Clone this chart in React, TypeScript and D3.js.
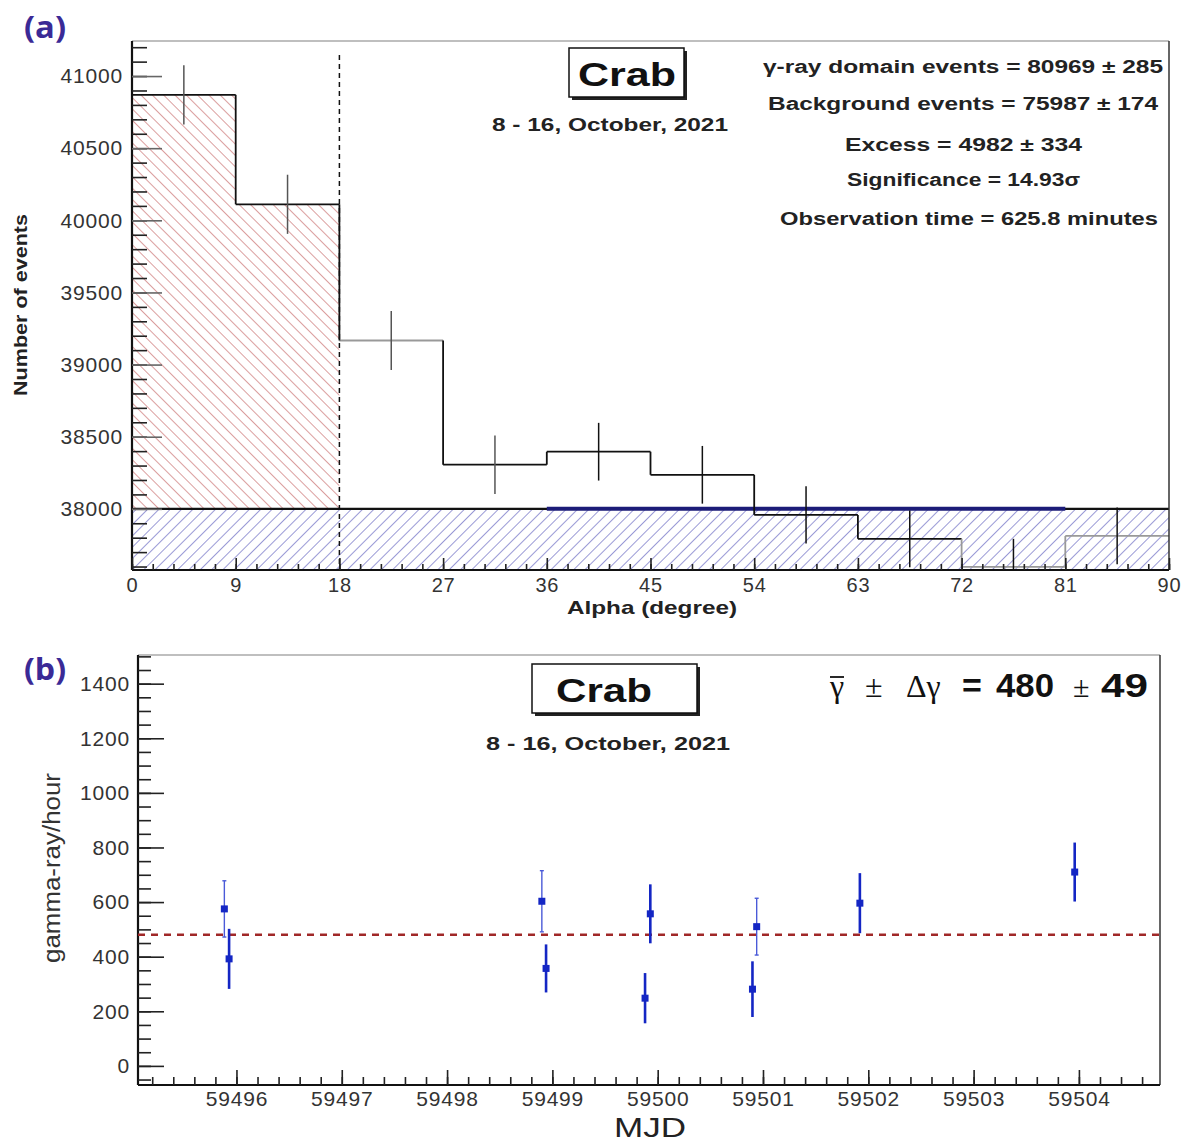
import React, { useRef, useEffect } from 'react';
import * as d3 from 'd3';

// ---- panel (a): alpha distribution ----
const binLow = [0, 9, 18, 27, 36, 45, 54, 63, 72, 81];
const binCounts = [40870, 40111, 39167, 38306, 38396, 38236, 37958, 37792, 37597, 37812];
const binErrors = [205, 205, 205, 203, 200, 200, 198, 197, 195, 197];
const binWidth = 9;
const onCut = 18;
const bgLevel = 38000;
const bgFitRange = [36, 81];
const statLines = [
  'γ-ray domain events = 80969 ± 285',
  'Background events = 75987 ± 174',
  'Excess = 4982 ± 334',
  'Significance  = 14.93σ',
  'Observation time = 625.8 minutes',
];

// ---- panel (b): light curve ----
const mjd = [59495.885, 59495.93, 59498.9, 59498.94, 59499.93, 59499.88, 59500.94, 59500.9, 59501.92, 59503.96];
const rate = [575, 392, 603, 357, 557, 248, 510, 281, 596, 710];
const rateErr = [103, 110, 112, 88, 108, 92, 104, 102, 110, 108];
const meanRate = 480;
const meanErr = 49;

const FONT = '"Liberation Sans", Arial, Helvetica, sans-serif';
const SERIF = '"Liberation Serif", "DejaVu Serif", serif';

export default function App() {
  const axRef = useRef<SVGGElement>(null);

  const xA = d3.scaleLinear().domain([0, 90]).range([132, 1169]);
  const yA = d3.scaleLinear().domain([37576, 41243]).range([570, 41]);
  const xB = d3.scaleLinear().domain([59495.065, 59504.77]).range([138, 1160]);
  const yB = d3.scaleLinear().domain([-70, 1505]).range([1085, 655]);

  useEffect(() => {
    const g = d3.select(axRef.current);
    g.selectAll('*').remove();

    const style = (sel: any, size: number) => {
      sel.select('.domain').remove();
      sel.selectAll('line').attr('stroke', '#222').attr('stroke-width', 1.6);
      sel.selectAll('text').attr('font-size', size).attr('font-family', FONT).attr('fill', '#333')
        .attr('letter-spacing', 0.8);
    };

    // top y axis
    const yaMaj = [38000, 38500, 39000, 39500, 40000, 40500, 41000];
    const yaMin = d3.range(37600, 41250, 100);
    g.append('g').attr('transform', 'translate(132,0)')
      .call(d3.axisLeft(yA).tickValues(yaMin).tickSize(-15).tickFormat(() => ''))
      .call((s: any) => style(s, 0));
    g.append('g').attr('transform', 'translate(132,0)')
      .call(d3.axisLeft(yA).tickValues(yaMaj).tickSize(-30).tickPadding(9).tickFormat(d3.format('d')))
      .call((s: any) => style(s, 21))
      .call((s: any) => s.selectAll('line').attr('stroke', '#666'));

    // top x axis
    g.append('g').attr('transform', 'translate(0,570)')
      .call(d3.axisBottom(xA).tickValues(d3.range(0, 90.01, 1.8)).tickSize(-6).tickFormat(() => ''))
      .call((s: any) => style(s, 0));
    g.append('g').attr('transform', 'translate(0,570)')
      .call(d3.axisBottom(xA).tickValues(d3.range(0, 91, 9)).tickSize(-12).tickPadding(8).tickFormat(d3.format('d')))
      .call((s: any) => style(s, 20));

    // bottom y axis
    g.append('g').attr('transform', 'translate(138,0)')
      .call(d3.axisLeft(yB).tickValues(d3.range(-50, 1501, 50)).tickSize(-13).tickFormat(() => ''))
      .call((s: any) => style(s, 0));
    g.append('g').attr('transform', 'translate(138,0)')
      .call(d3.axisLeft(yB).tickValues(d3.range(0, 1401, 200)).tickSize(-26).tickPadding(8).tickFormat(d3.format('d')))
      .call((s: any) => style(s, 21));

    // bottom x axis
    g.append('g').attr('transform', 'translate(0,1085)')
      .call(d3.axisBottom(xB).tickValues(d3.range(59495.2, 59504.7, 0.2)).tickSize(-8).tickFormat(() => ''))
      .call((s: any) => style(s, 0));
    g.append('g').attr('transform', 'translate(0,1085)')
      .call(d3.axisBottom(xB).tickValues(d3.range(59496, 59505, 1)).tickSize(-15).tickPadding(6).tickFormat(d3.format('d')))
      .call((s: any) => style(s, 21));
  }, []);

  const fadedBins = new Set([2, 8, 9]);
  const greyErr = new Set([0, 1, 2, 3]);
  const faintPts = new Set([0, 2, 6]);

  // red hatched signal region (0..18) above background level
  const onBins = binLow.map((b, i) => ({ b, c: binCounts[i] })).filter(d => d.b < onCut);
  const stepArea = d3.area<{ b: number; c: number }>()
    .x(d => xA(d.b)).y0(yA(bgLevel)).y1(d => yA(d.c)).curve(d3.curveStepAfter);
  const onArea = stepArea([...onBins, { b: onCut, c: onBins[onBins.length - 1].c }]);

  return (
    <svg width={1184} height={1142} style={{ position: 'absolute', left: 0, top: 0, background: '#fff' }}>
      <defs>
        <pattern id="redHatch" patternUnits="userSpaceOnUse" width={8} height={8} patternTransform="rotate(-45)">
          <line x1={0} y1={0} x2={0} y2={8} stroke="#c86a6a" strokeWidth={1.3} />
        </pattern>
        <pattern id="blueHatch" patternUnits="userSpaceOnUse" width={8} height={8} patternTransform="rotate(45)">
          <line x1={0} y1={0} x2={0} y2={8} stroke="#6e6ec4" strokeWidth={1.4} />
        </pattern>
        <clipPath id="clipA"><rect x={132} y={41} width={1037} height={529} /></clipPath>
        <clipPath id="clipB"><rect x={138} y={655} width={1022} height={430} /></clipPath>
      </defs>

      {/* ===== panel (a) ===== */}
      <text x={24} y={38} fontFamily='"Open Sans", "Noto Sans", sans-serif' fontWeight="bold" fontSize={30}
        textLength={42} lengthAdjust="spacingAndGlyphs" fill="#3a2a96">(a)</text>
      <g clipPath="url(#clipA)">
        <path d={onArea || ''} fill="url(#redHatch)" />
        <rect x={xA(0)} y={yA(bgLevel)} width={xA(90) - xA(0)} height={yA(37576) - yA(bgLevel)} fill="url(#blueHatch)" />
        <line x1={xA(0)} x2={xA(90)} y1={yA(bgLevel)} y2={yA(bgLevel)} stroke="#111" strokeWidth={2.2} />
        <line x1={xA(bgFitRange[0])} x2={xA(bgFitRange[1])} y1={yA(bgLevel)} y2={yA(bgLevel)} stroke="#1c1c78" strokeWidth={4} />
        <line x1={xA(onCut)} x2={xA(onCut)} y1={55} y2={570} stroke="#111" strokeWidth={1.5} strokeDasharray="5,4" />
        {binLow.map((b, i) => (
          <g key={'bin' + i}>
            <line x1={xA(b)} x2={xA(b + binWidth)} y1={yA(binCounts[i])} y2={yA(binCounts[i])}
              stroke={fadedBins.has(i) ? '#999' : '#111'} strokeWidth={1.8} />
            {i > 0 && (
              <line x1={xA(b)} x2={xA(b)} y1={yA(binCounts[i - 1])} y2={yA(binCounts[i])}
                stroke={i >= 8 ? '#999' : '#111'} strokeWidth={1.8} />
            )}
            <line x1={xA(b + binWidth / 2)} x2={xA(b + binWidth / 2)}
              y1={yA(binCounts[i] + binErrors[i])} y2={yA(binCounts[i] - binErrors[i])}
              stroke={greyErr.has(i) ? '#555' : '#111'} strokeWidth={1.5} />
          </g>
        ))}
      </g>
      {/* frame a */}
      <line x1={132} x2={1169} y1={41} y2={41} stroke="#aaa" strokeWidth={1.5} />
      <line x1={1169} x2={1169} y1={41} y2={570} stroke="#333" strokeWidth={1.5} />
      <line x1={132} x2={132} y1={41} y2={570} stroke="#111" strokeWidth={2.2} />
      <line x1={132} x2={1169} y1={570} y2={570} stroke="#111" strokeWidth={2.2} />

      {/* Crab box a */}
      <rect x={572} y={51} width={115} height={49} fill="#222" />
      <rect x={569} y={48} width={115} height={49} fill="#fff" stroke="#111" strokeWidth={1.5} />
      <text x={627} y={86} textAnchor="middle" fontFamily={FONT} fontWeight="bold" fontSize={34}
        textLength={98} lengthAdjust="spacingAndGlyphs" fill="#111">Crab</text>
      <text x={610} y={131} textAnchor="middle" fontFamily={FONT} fontWeight="bold" fontSize={18}
        textLength={236} lengthAdjust="spacingAndGlyphs" fill="#222">8 - 16, October, 2021</text>

      {statLines.map((t, i) => {
        const pos = [[763, 1163, 73], [768, 1158, 110], [845, 1082, 151], [847, 1080, 186], [780, 1158, 225]][i];
        return (
          <text key={'st' + i} x={(pos[0] + pos[1]) / 2} y={pos[2]} textAnchor="middle" fontFamily={FONT}
            fontWeight="bold" fontSize={18} textLength={pos[1] - pos[0]} lengthAdjust="spacingAndGlyphs" fill="#222">{t}</text>
        );
      })}

      <text transform="translate(27,305) rotate(-90)" textAnchor="middle" fontFamily={FONT} fontWeight="bold"
        fontSize={19} textLength={182} lengthAdjust="spacingAndGlyphs" fill="#222">Number of events</text>
      <text x={652} y={614} textAnchor="middle" fontFamily={FONT} fontWeight="bold" fontSize={19}
        textLength={170} lengthAdjust="spacingAndGlyphs" fill="#222">Alpha (degree)</text>

      {/* ===== panel (b) ===== */}
      <text x={24} y={680} fontFamily='"Open Sans", "Noto Sans", sans-serif' fontWeight="bold" fontSize={30}
        textLength={42} lengthAdjust="spacingAndGlyphs" fill="#3a2a96">(b)</text>
      <line x1={138} x2={1160} y1={655} y2={655} stroke="#aaa" strokeWidth={1.5} />
      <line x1={1160} x2={1160} y1={655} y2={1085} stroke="#333" strokeWidth={1.5} />
      <line x1={138} x2={138} y1={655} y2={1085} stroke="#111" strokeWidth={2.2} />
      <line x1={138} x2={1160} y1={1085} y2={1085} stroke="#111" strokeWidth={2.2} />

      <g clipPath="url(#clipB)">
        <line x1={138} x2={1160} y1={yB(meanRate)} y2={yB(meanRate)} stroke="#a02828" strokeWidth={2.5} strokeDasharray="7,6" />
        {mjd.map((m, i) => {
          const faint = faintPts.has(i);
          const col = faint ? '#4a5ad8' : '#1426c4';
          return (
            <g key={'pt' + i}>
              <line x1={xB(m)} x2={xB(m)} y1={yB(rate[i] + rateErr[i])} y2={yB(rate[i] - rateErr[i])}
                stroke={col} strokeWidth={faint ? 1.4 : 2.6} />
              {faint && [1, -1].map(s => (
                <line key={s} x1={xB(m) - 2} x2={xB(m) + 2} y1={yB(rate[i] + s * rateErr[i])} y2={yB(rate[i] + s * rateErr[i])}
                  stroke={col} strokeWidth={1.4} />
              ))}
              <rect x={xB(m) - 3.5} y={yB(rate[i]) - 3.5} width={7} height={7} fill="#1426c4" />
            </g>
          );
        })}
      </g>

      {/* Crab box b */}
      <rect x={535} y={667} width={165} height={49} fill="#222" />
      <rect x={532} y={664} width={165} height={49} fill="#fff" stroke="#111" strokeWidth={1.5} />
      <text x={604} y={702} textAnchor="middle" fontFamily={FONT} fontWeight="bold" fontSize={34}
        textLength={96} lengthAdjust="spacingAndGlyphs" fill="#111">Crab</text>
      <text x={608} y={750} textAnchor="middle" fontFamily={FONT} fontWeight="bold" fontSize={18}
        textLength={244} lengthAdjust="spacingAndGlyphs" fill="#222">8 - 16,  October, 2021</text>

      {/* mean rate formula */}
      <line x1={830} x2={844} y1={677} y2={677} stroke="#111" strokeWidth={1.8} />
      <text y={697} fontSize={32} fill="#111" fontFamily={SERIF}>
        <tspan x={830}>γ</tspan>
        <tspan x={865}>±</tspan>
        <tspan x={906}>Δγ</tspan>
      </text>
      <text x={962} y={697} fontSize={34} fontFamily={FONT} fontWeight="bold" fill="#111">=</text>
      <text x={996} y={697} fontSize={34} fontFamily={FONT} fontWeight="bold" fill="#111"
        textLength={58} lengthAdjust="spacingAndGlyphs">{meanRate}</text>
      <text x={1073} y={697} fontSize={30} fontFamily={SERIF} fill="#111">±</text>
      <text x={1101} y={697} fontSize={34} fontFamily={FONT} fontWeight="bold" fill="#111"
        textLength={47} lengthAdjust="spacingAndGlyphs">{meanErr}</text>

      <text transform="translate(60,868) rotate(-90)" textAnchor="middle" fontFamily={FONT} fontSize={23}
        textLength={190} lengthAdjust="spacingAndGlyphs" fill="#333">gamma-ray/hour</text>
      <text x={650} y={1137} textAnchor="middle" fontFamily={FONT} fontSize={28}
        textLength={72} lengthAdjust="spacingAndGlyphs" fill="#222">MJD</text>

      <g ref={axRef} />
    </svg>
  );
}
